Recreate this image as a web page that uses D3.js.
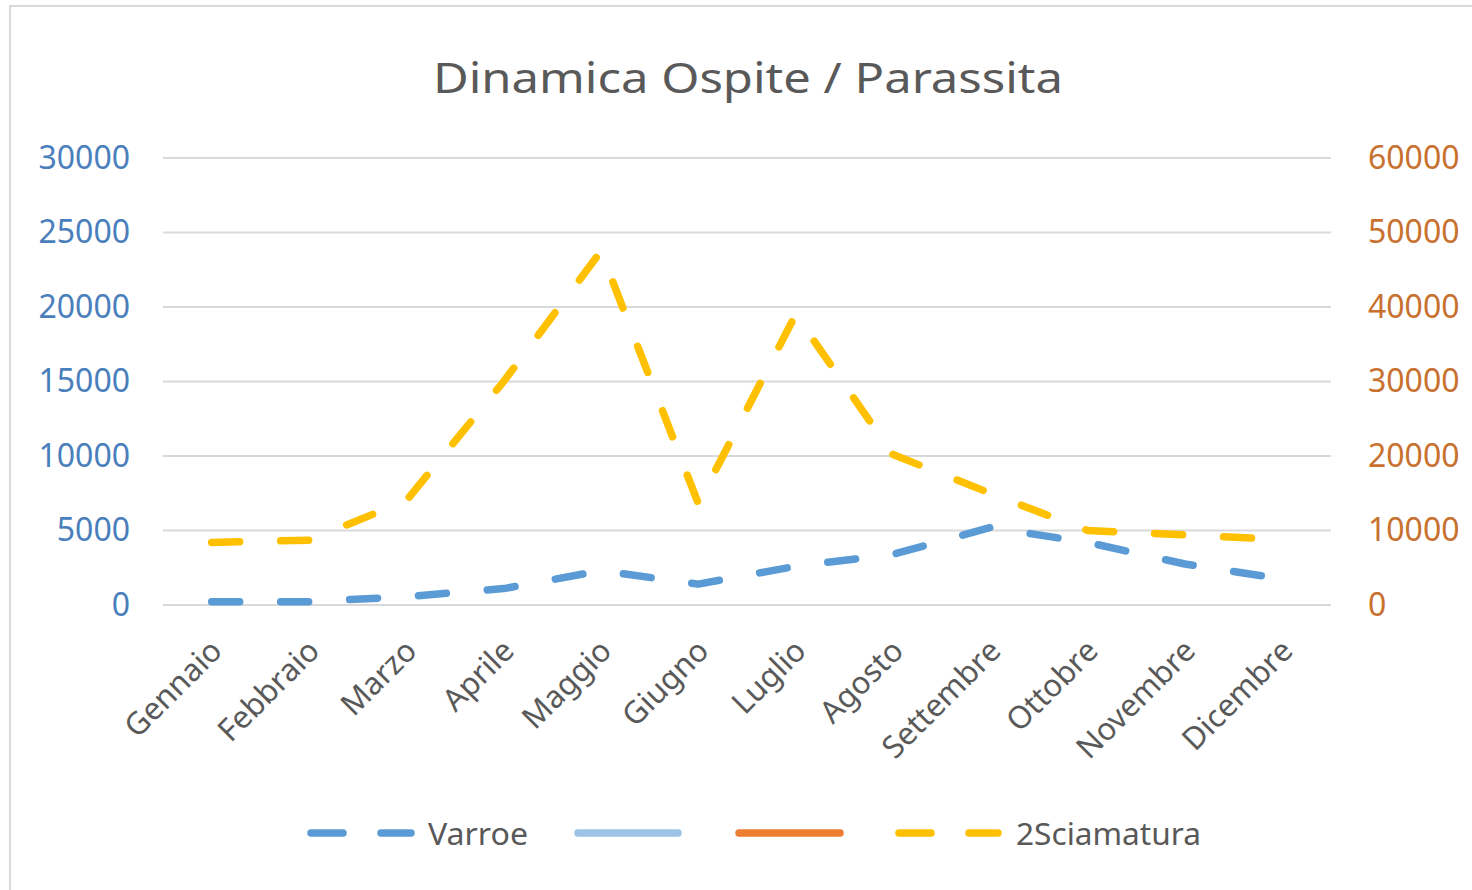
<!DOCTYPE html>
<html>
<head>
<meta charset="utf-8">
<script src="https://cdn.jsdelivr.net/npm/d3@7"></script>
<style>
  html, body { margin: 0; padding: 0; background: #ffffff; }
  svg { display: block; }
</style>
</head>
<body>
<svg id="chart" width="1472" height="890"></svg>
<script>
const months = ["Gennaio","Febbraio","Marzo","Aprile","Maggio","Giugno","Luglio","Agosto","Settembre","Ottobre","Novembre","Dicembre"];
const varroe = [220, 220, 560, 1100, 2300, 1400, 2600, 3400, 5200, 4200, 2750, 1750];
const sciamatura = [8400, 8700, 14000, 30000, 47500, 13600, 39000, 20200, 15000, 10000, 9400, 8800];
const leftTicks = [0, 5000, 10000, 15000, 20000, 25000, 30000];
const rightTicks = [0, 10000, 20000, 30000, 40000, 50000, 60000];
const legendItems = [
  {label: "Varroe", color: "#5b9bd5", dashed: true},
  {label: "", color: "#9dc3e6", dashed: false},
  {label: "", color: "#ed7d31", dashed: false},
  {label: "2Sciamatura", color: "#ffc000", dashed: true}
];

const svg = d3.select("#chart");
const font = "'Noto Sans', 'Open Sans', sans-serif";
const plot = {left: 163, right: 1331, top: 158, bottom: 605};

// chart border
svg.append("rect").attr("x", 10).attr("y", 6).attr("width", 1480).attr("height", 900)
  .attr("fill", "#ffffff").attr("stroke", "#d9d9d9").attr("stroke-width", 2);

const x = d3.scalePoint().domain(months).range([plot.left, plot.right]).padding(0.5);
const yL = d3.scaleLinear().domain([0, 30000]).range([plot.bottom, plot.top]);
const yR = d3.scaleLinear().domain([0, 60000]).range([plot.bottom, plot.top]);

// title
svg.append("text").attr("x", 748).attr("y", 76).attr("text-anchor", "middle")
  .attr("dominant-baseline", "central")
  .attr("font-family", font).attr("font-size", 42).attr("fill", "#595959")
  .attr("textLength", 630).attr("lengthAdjust", "spacingAndGlyphs")
  .text("Dinamica Ospite / Parassita");

// gridlines
svg.append("g").selectAll("line").data(leftTicks).join("line")
  .attr("x1", plot.left).attr("x2", plot.right)
  .attr("y1", d => yL(d)).attr("y2", d => yL(d))
  .attr("stroke", "#d9d9d9").attr("stroke-width", 2);

// left axis
const gL = svg.append("g").attr("transform", `translate(${plot.left},0)`)
  .call(d3.axisLeft(yL).tickValues(leftTicks).tickSize(0).tickPadding(33).tickFormat(d3.format("d")));
gL.select(".domain").remove();
gL.selectAll("text").attr("font-family", font).attr("font-size", 32).attr("fill", "#4a7fbc");

// right axis
const gR = svg.append("g").attr("transform", `translate(${plot.right},0)`)
  .call(d3.axisRight(yR).tickValues(rightTicks).tickSize(0).tickPadding(37).tickFormat(d3.format("d")));
gR.select(".domain").remove();
gR.selectAll("text").attr("font-family", font).attr("font-size", 32).attr("fill", "#c8712f");

// x axis labels
const gX = svg.append("g").attr("transform", `translate(0,${plot.bottom})`)
  .call(d3.axisBottom(x).tickSize(0).tickPadding(0));
gX.select(".domain").remove();
gX.selectAll(".tick text")
  .attr("font-family", font).attr("font-size", 31).attr("fill", "#595959")
  .attr("text-anchor", "end").attr("dy", "0.35em").attr("y", 0)
  .attr("transform", "translate(4,40) rotate(-45)");

// lines
const dash = "28,41";
const lineL = d3.line().x((d, i) => x(months[i])).y(d => yL(d));
const lineR = d3.line().x((d, i) => x(months[i])).y(d => yR(d));

svg.append("path").datum(varroe).attr("d", lineL)
  .attr("fill", "none").attr("stroke", "#5b9bd5").attr("stroke-width", 7.5)
  .attr("stroke-linecap", "round").attr("stroke-linejoin", "round")
  .attr("stroke-dasharray", dash);

svg.append("path").datum(sciamatura).attr("d", lineR)
  .attr("fill", "none").attr("stroke", "#ffc000").attr("stroke-width", 7.5)
  .attr("stroke-linecap", "round").attr("stroke-linejoin", "round")
  .attr("stroke-dasharray", dash);

// legend
const legendY = 833;
const legendPos = [
  {x1: 311, x2: 411, tx: 428, tl: 100},
  {x1: 578, x2: 678, tx: null, tl: 0},
  {x1: 739, x2: 840, tx: null, tl: 0},
  {x1: 899, x2: 998, tx: 1016, tl: 185}
];
const lg = svg.append("g");
legendItems.forEach((item, i) => {
  const p = legendPos[i];
  lg.append("line").attr("x1", p.x1).attr("x2", p.x2).attr("y1", legendY).attr("y2", legendY)
    .attr("stroke", item.color).attr("stroke-width", 7.5).attr("stroke-linecap", "round")
    .attr("stroke-dasharray", item.dashed ? "32,38" : null);
  if (item.label) {
    lg.append("text").attr("x", p.tx).attr("y", legendY).attr("dominant-baseline", "central")
      .attr("font-family", font).attr("font-size", 30).attr("fill", "#595959")
      .attr("textLength", p.tl).attr("lengthAdjust", "spacingAndGlyphs")
      .text(item.label);
  }
});
</script>
</body>
</html>
